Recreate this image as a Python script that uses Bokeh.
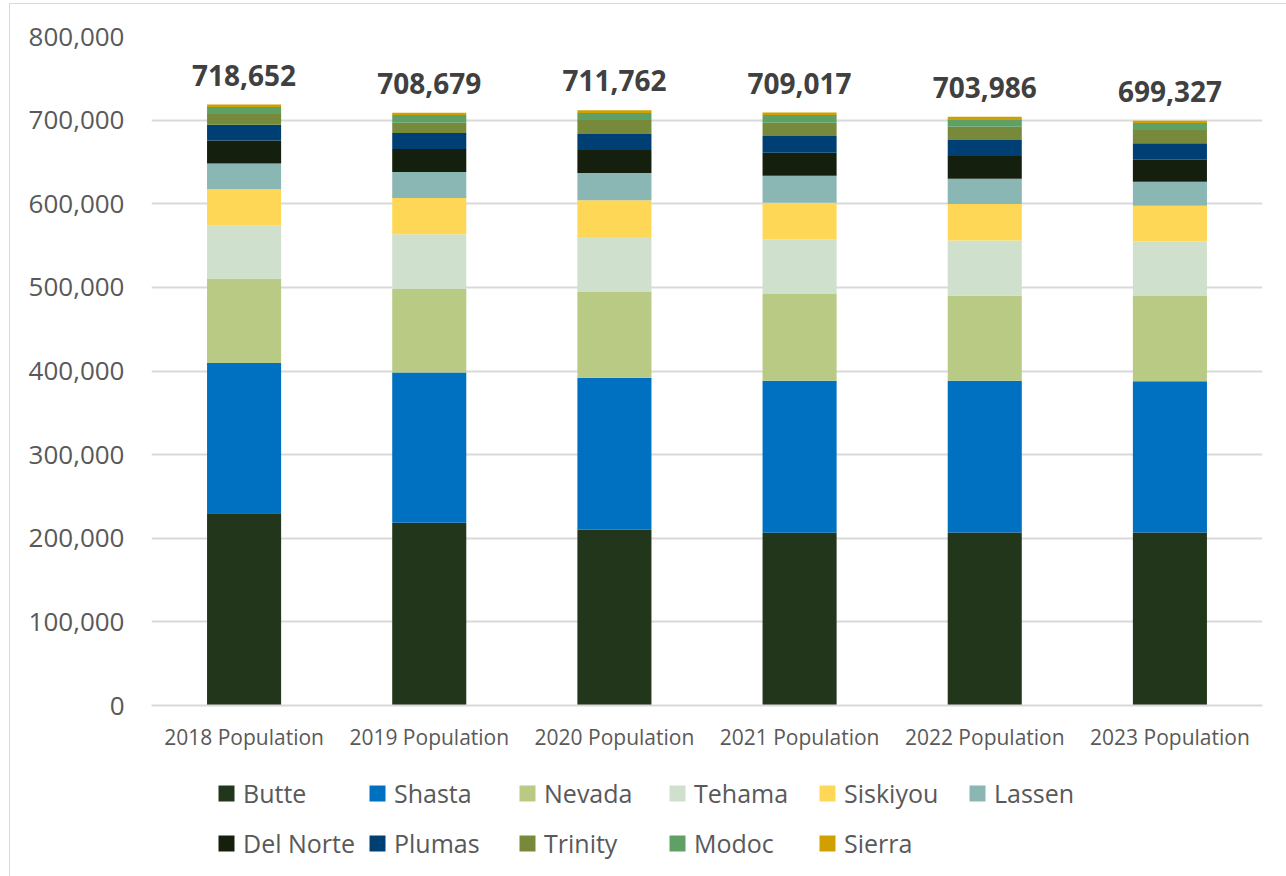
from bokeh.plotting import figure
from bokeh.layouts import column
from bokeh.models import (ColumnDataSource, FactorRange, Range1d, Legend, LegendItem,
                          NumeralTickFormatter, FixedTicker)
from bokeh.core.properties import value
from bokeh.embed import file_html
from bokeh.resources import INLINE

years = ["2018 Population", "2019 Population", "2020 Population",
         "2021 Population", "2022 Population", "2023 Population"]
counties = ["Butte", "Shasta", "Nevada", "Tehama", "Siskiyou", "Lassen",
            "Del Norte", "Plumas", "Trinity", "Modoc", "Sierra"]

butte     = [230000, 218500, 210200, 206600, 206900, 206900]
shasta    = [179450, 179800, 181800, 181800, 181500, 180700]
nevada    = [100450, 99700, 102400, 103600, 102000, 102000]
tehama    = [63900, 65400, 65800, 65400, 65800, 65400]
siskiyou  = [43400, 43400, 43900, 43900, 43400, 42700]
lassen    = [30800, 31100, 32600, 32300, 30400, 28700]
del_norte = [27500, 27500, 27500, 27500, 27100, 26300]
plumas    = [19100, 19200, 19200, 19900, 19100, 19500]
trinity   = [12700, 12400, 16700, 16000, 16000, 16000]
modoc     = [8400, 9100, 8400, 9100, 8800, 8300]
sierra    = [2952, 2579, 3262, 2917, 2986, 2827]
totals    = [718652, 708679, 711762, 709017, 703986, 699327]

colors = ["#21361A", "#0070C0", "#B8CA84", "#CFE1CC", "#FFD757", "#8AB6B4",
          "#151F0E", "#003F73", "#778A3C", "#5FA065", "#CFA000"]

series = [butte, shasta, nevada, tehama, siskiyou, lassen,
          del_norte, plumas, trinity, modoc, sierra]

data = {"year": years}
for name, vals in zip(counties, series):
    data[name] = vals
source = ColumnDataSource(data)

W = 1276
H1, H2 = 770, 102

p = figure(x_range=FactorRange(*years), y_range=Range1d(0, 800000),
           width=W, height=H1, output_backend="svg", toolbar_location=None,
           min_border_left=141, min_border_right=24, min_border_top=32,
           min_border_bottom=69)
p.outline_line_color = None
p.background_fill_color = "white"
p.border_fill_color = "white"

renderers = p.vbar_stack(counties, x="year", width=0.4, color=colors,
                         line_color=None, source=source)

tsrc = ColumnDataSource(dict(year=years, total=totals,
                             label=[f"{t:,}" for t in totals]))
p.text(x="year", y="total", text="label", source=tsrc, text_align="center",
       text_baseline="bottom", y_offset=-19, text_font=value("Open Sans"),
       text_font_style="bold", text_font_size="28px", text_color="#404040")

p.yaxis.ticker = FixedTicker(ticks=list(range(0, 800001, 100000)))
p.yaxis.formatter = NumeralTickFormatter(format="0,0")
p.yaxis.axis_line_color = None
p.yaxis.major_tick_line_color = None
p.yaxis.minor_tick_line_color = None
p.yaxis.major_label_text_font = "Open Sans"
p.yaxis.major_label_text_font_size = "26px"
p.yaxis.major_label_text_color = "#595959"
p.yaxis.major_label_standoff = 21

p.xaxis.axis_line_color = "#D9D9D9"
p.xaxis.axis_line_width = 2
p.xaxis.major_tick_line_color = None
p.xaxis.minor_tick_line_color = None
p.xaxis.major_label_text_font = "Open Sans"
p.xaxis.major_label_text_font_size = "21px"
p.xaxis.major_label_text_color = "#595959"
p.xaxis.major_label_standoff = 11

p.xgrid.grid_line_color = None
p.ygrid.grid_line_color = "#D9D9D9"
p.ygrid.grid_line_width = 2
p.x_range.range_padding = 0
p.x_range.group_padding = 0

# legend panel
p2 = figure(width=W, height=H2, output_backend="svg", toolbar_location=None,
            x_range=Range1d(0, 1), y_range=Range1d(0, 1),
            min_border=0, min_border_left=0, min_border_right=0,
            min_border_top=0, min_border_bottom=0)
p2.axis.visible = False
p2.grid.visible = False
p2.outline_line_color = None
p2.border_fill_color = "white"

leg_renderers = [p2.rect(x=[-10], y=[-10], width=0.1, height=0.1, fill_color=c,
                         line_color=None) for c in colors]
items = [LegendItem(label=c, renderers=[r], index=0) for c, r in zip(counties, leg_renderers)]
legend = Legend(items=items, orientation="horizontal", ncols=6,
                location=(65, 14), padding=0, margin=0, spacing=12,
                glyph_width=20, glyph_height=20, label_standoff=7,
                label_width=111, label_height=38,
                label_text_font="Open Sans", label_text_font_size="25px",
                label_text_color="#595959", border_line_color=None,
                background_fill_alpha=0)
p2.add_layout(legend, "center")

layout = column(p, p2, spacing=0)
layout.styles = {"border": "1px solid #D9D9D9", "margin-left": "9px", "margin-top": "3px"}

open("out.html", "w").write(file_html(layout, INLINE))
